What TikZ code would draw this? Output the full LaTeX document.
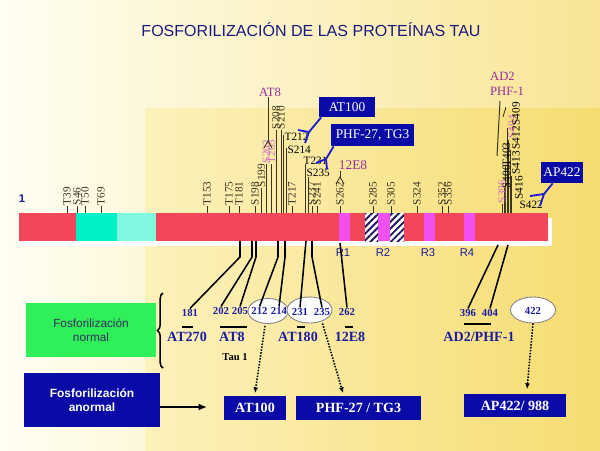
\documentclass[tikz,border=0pt]{standalone}
\usepackage{fontspec}
\setmainfont{Liberation Serif}
\setsansfont{Liberation Sans}
\usetikzlibrary{positioning, calc, patterns.meta, arrows.meta, shapes.geometric, decorations.pathreplacing}

\definecolor{barred}{HTML}{F2475A}
\definecolor{tcyan}{HTML}{00F0C8}
\definecolor{lcyan}{HTML}{80F8E0}
\definecolor{rpink}{HTML}{F050F0}
\definecolor{hatchc}{HTML}{1A1A60}
\definecolor{navyb}{HTML}{0A0AA6}
\definecolor{lblue}{HTML}{1C1CA0}
\definecolor{forkb}{HTML}{1A1AD8}
\definecolor{mag}{HTML}{9C2C9C}
\definecolor{pinkt}{HTML}{D070C0}
\definecolor{olivec}{HTML}{3A3420}
\definecolor{greenb}{HTML}{30F05A}
\definecolor{normtext}{HTML}{30305A}
\definecolor{titlec}{HTML}{1A1A80}
\definecolor{bgA}{HTML}{FFFEF2}
\definecolor{bgB}{HTML}{F8E594}
\definecolor{bgC}{HTML}{FCF1BC}
\definecolor{bgD}{HTML}{F6DC70}

\tikzset{
  site/.style={font=\fontsize{8}{8.5}\selectfont, inner sep=0.3pt, rotate=90, anchor=west},
  hsite/.style={font=\fontsize{8}{8.5}\selectfont, inner sep=0.3pt, anchor=west},
  stem/.style={olivec, line width=0.6pt},
  posnum/.style={font=\fontsize{7.6}{9}\selectfont\bfseries, text=lblue, inner sep=0.5pt},
  mab/.style={font=\fontsize{10}{11}\selectfont\bfseries, text=lblue, inner sep=0.5pt},
  epi/.style={font=\fontsize{9}{10.5}\selectfont, text=mag, inner sep=0.5pt},
  rlbl/.style={font=\sffamily\fontsize{8}{9}\selectfont, text=lblue, inner sep=0.5pt},
  link/.style={black, line width=1.1pt},
  fork/.style={forkb, line width=1.3pt},
  topbox/.style={fill=navyb, text=white, inner sep=0pt, font=\fontsize{9.5}{10}\selectfont},
  botbox/.style={fill=navyb, text=white, inner sep=0pt, font=\fontsize{10}{11}\selectfont\bfseries},
  oval/.style={ellipse, draw=gray, fill=white, line width=0.6pt, inner sep=0pt},
  dotarrow/.style={densely dotted, line width=1.1pt, -{Latex[length=4pt, width=3.5pt]}},
  hatched/.style={pattern={Lines[angle=45, distance=3.4pt, line width=1.3pt]}, pattern color=hatchc}
}

% antibody tip
\newcommand{\abtip}[2]{\draw[stem, line width=0.6pt] (#1-4,#2+7) -- (#1,#2) -- (#1+4,#2+7);}

\begin{document}
\begin{tikzpicture}[x=0.025cm, y=-0.025cm]
    \useasboundingbox (0,0) rectangle (600,450);

    % background
    \shade[left color=bgA, right color=bgB] (0,0) rectangle (600,450);
    \shade[left color=bgC, right color=bgD] (145,108) rectangle (600,450);

    % title
    \node[font=\sffamily\fontsize{11.4}{13}\selectfont, text=titlec] (title) at (311,30) {FOSFORILIZACIÓN DE LAS PROTEÍNAS TAU};

    % protein bar
    \fill[white] (22,218) rectangle (552,246);
    \fill[barred] (19,213) rectangle (548,241);
    \fill[tcyan] (76,213) rectangle (117,241);
    \fill[lcyan] (117,213) rectangle (156,241);
    \foreach \a/\b in {339/350, 378/390, 424/435, 464/475}
        \fill[rpink] (\a,213) rectangle (\b,241);
    \foreach \a/\b in {365/378, 390/404} {
        \fill[white] (\a,213) rectangle (\b,241);
        \fill[hatched] (\a,213) rectangle (\b,241);
    }
    \node[font=\sffamily\bfseries\fontsize{8}{9}\selectfont, text=lblue] (one) at (22,199) {1};
    \node[rlbl] (r1) at (343,253) {R1};
    \node[rlbl] (r2) at (383,253) {R2};
    \node[rlbl] (r3) at (428,253) {R3};
    \node[rlbl] (r4) at (467,253) {R4};

    % short sites
    \foreach \x/\t in {67/T39, 77/S46, 85/T50, 101/T69, 207/T153, 229/T175, 239/T181, 255/S198, 292/T217, 312/S237, 317/S241, 340/S262, 373/S285, 391/S305, 417/S324, 442/S352, 448/S356}
        \draw[stem] (\x,213) -- (\x,206) node[site] (s\t) {\t};

    % long sites
    \foreach \x/\y/\t in {261.5/188/S199, 276/130/S208, 281/130/S210}
        \draw[stem] (\x,213) -- (\x,\y) node[site] (s\t) {\t};
    \foreach \x/\t in {266.5/S202, 271.5/T205}
        \draw[stem] (\x,213) -- (\x,164) node[site, text=pinkt] (s\t) {\t};
    \draw[stem] (283,213) -- (283,135);
    \node[hsite] (sT212) at (284,137) {T212};
    \draw[stem] (286,213) -- (286,148);
    \node[hsite] (sS214) at (287,149.5) {S214};
    \draw[stem] (305,213) -- (305,164);
    \node[hsite] (sT231) at (303,160.5) {T231};
    \draw[stem] (308,213) -- (308,177);
    \node[hsite] (sS235) at (306,173) {S235};

    % AT8 and 12E8
    \node[epi] (at8) at (270,92) {AT8};
    \draw[stem] (at8.south -| 268,0) -- (268,141);
    \abtip{268}{141}
    \node[epi, font=\fontsize{9.5}{10}\selectfont] (e12) at (353,165) {12E8};
    \draw[stem] (340,177) -- (340,171);
    \abtip{340}{177}

    % AD2 / PHF-1 cluster
    \foreach \x/\y in {504/188, 505.5/166, 507/128, 508.5/140, 510/150, 511.5/176}
        \draw[stem, line width=0.7pt] (\x,213) -- (\x,\y);
    \draw[stem] (502,213) -- (502,204) node[site, text=pinkt] (sS396) {S396};
    \node[site] (sS400) at (506.5,189) {S400};
    \node[site] (sT403) at (506.5,167) {T403};
    \node[site, text=pinkt] (sS404) at (512,139) {S404};
    \node[site] (sS409) at (516,126) {S409};
    \node[site] (sS412) at (516,150) {S412};
    \node[site] (sS413) at (516,175) {S413};
    \node[site] (sS416) at (519,200) {S416};
    \node[hsite] (sS422) at (519,205) {S422};
    \node[epi, align=left, font=\fontsize{9}{10.7}\selectfont] (ad2) at (507,84) {AD2\\PHF-1};
    \draw[stem, line width=0.7pt] (500,101) -- (497,156);
    \draw[stem, line width=0.6pt] (503,117) -- (506,107);

    % antibody tags on top
    \node[topbox, minimum width=1.375cm, minimum height=0.5cm] (at100t) at (347,107) {AT100};
    \node[topbox, minimum width=2.075cm, minimum height=0.55cm] (phft) at (372.5,135) {PHF-27, TG3};
    \node[topbox, minimum width=1.05cm, minimum height=0.525cm] (apt) at (562,172.5) {AP422};
    \coordinate (fk1) at (309,132);
    \coordinate (fk2) at (326,159);
    \coordinate (fk3) at (544,194);
    \draw[fork] ($(at100t.south west)+(2,0)$) -- (fk1) -- (298,130) (fk1) -- (305,143);
    \draw[fork] ($(phft.south west)+(3,0)$) -- (fk2) -- (316,163) (fk2) -- (327,169);
    \draw[fork] ($(apt.south west)+(12,0)$) -- (fk3) -- (530,196) (fk3) -- (540,206);

    % ovals and position labels
    \node[oval, minimum width=1cm, minimum height=0.625cm] (o212) at (268,311) {};
    \node[oval, minimum width=1.125cm, minimum height=0.65cm] (o231) at (309.5,310) {};
    \node[oval, minimum width=1.125cm, minimum height=0.65cm] (o422) at (533,310) {};
    \node[posnum] (n181) at (190,313) {181};
    \node[posnum] (n202) at (221,311) {202};
    \node[posnum] (n205) at (240,311) {205};
    \node[posnum] (n212) at (259.5,311) {212};
    \node[posnum] (n214) at (279,311) {214};
    \node[posnum] (n231) at (300,312) {231};
    \node[posnum] (n235) at (322,312) {235};
    \node[posnum] (n262) at (347,312) {262};
    \node[posnum] (n396) at (468,313) {396};
    \node[posnum] (n404) at (490,313) {404};
    \node[posnum] (n422) at (533,311) {422};

    % links from the bar
    \draw[link] (240,241) -- (240,257) -- (n181.north);
    \draw[link] (252,241) -- (252,257) -- (n202.north);
    \draw[link] (256,241) -- (256,257) -- (n205.north);
    \draw[link] (278,241) -- (278,257) -- (n212.north);
    \draw[link] (285,241) -- (285,257) -- (n214.north);
    \draw[link] (306,241) -- (n231.north);
    \draw[link] (312,241) -- (312,257) -- (n235.north);
    \draw[link] (340,243) -- (n262.north);
    \draw[link] (498,245) -- (n396.north);
    \draw[link] (508,245) -- (n404.north);

    % antibody names
    \draw[line width=1.5pt] (182,327) -- (193,327);
    \draw[line width=1.5pt] (220,327) -- (247,327);
    \draw[line width=1.5pt] (297,327) -- (305,327);
    \draw[line width=1.5pt] (345,327) -- (353,327);
    \draw[line width=1.5pt] (464,324) -- (491,324);
    \node[mab] (m270) at (187,337) {AT270};
    \node[mab] (m8) at (232,337) {AT8};
    \node[mab] (m180) at (298,337) {AT180};
    \node[mab] (m12) at (350,337) {12E8};
    \node[mab] (mad2) at (479,337) {AD2/PHF-1};
    \node[font=\fontsize{7.5}{8}\selectfont\bfseries, inner sep=0.5pt] (tau1) at (235,357) {Tau 1};
    \draw[decorate, decoration={brace, amplitude=4pt}, line width=1.1pt] (163,368) -- (163,293);

    % phosphorylation boxes
    \node[fill=greenb, minimum width=3.225cm, minimum height=1.35cm, align=center, text=normtext,
          font=\sffamily\fontsize{8.4}{10}\selectfont] (norm) at (91,330) {Fosforilización\\normal};
    \node[fill=navyb, minimum width=3.375cm, minimum height=1.35cm, align=center, text=white,
          font=\sffamily\bfseries\fontsize{8.5}{10.2}\selectfont] (abn) at (92,400) {Fosforilización\\anormal};
    \node[botbox, minimum width=1.55cm, minimum height=0.6cm] (at100b) at (255,408) {AT100};
    \node[botbox, minimum width=3.125cm, minimum height=0.6cm] (phfb) at (358.5,408) {PHF-27 / TG3};
    \node[botbox, minimum width=2.55cm, minimum height=0.575cm] (apb) at (515,405.5) {AP422/ 988};

    % arrows
    \coordinate (arrEnd) at (207,407);
    \draw[line width=1.2pt, -{Latex[length=6pt, width=5pt]}] (abn.east |- arrEnd) -- (arrEnd);
    \coordinate (dA) at (255,393);
    \coordinate (dB) at (343,393);
    \coordinate (dC) at (527,389);
    \draw[dotarrow] ($(o212.south)+(-3,2)$) -- (dA);
    \draw[dotarrow] ($(o231.south)+(13,0)$) -- (dB);
    \draw[dotarrow] (o422.south) -- (dC);
\end{tikzpicture}
\end{document}
